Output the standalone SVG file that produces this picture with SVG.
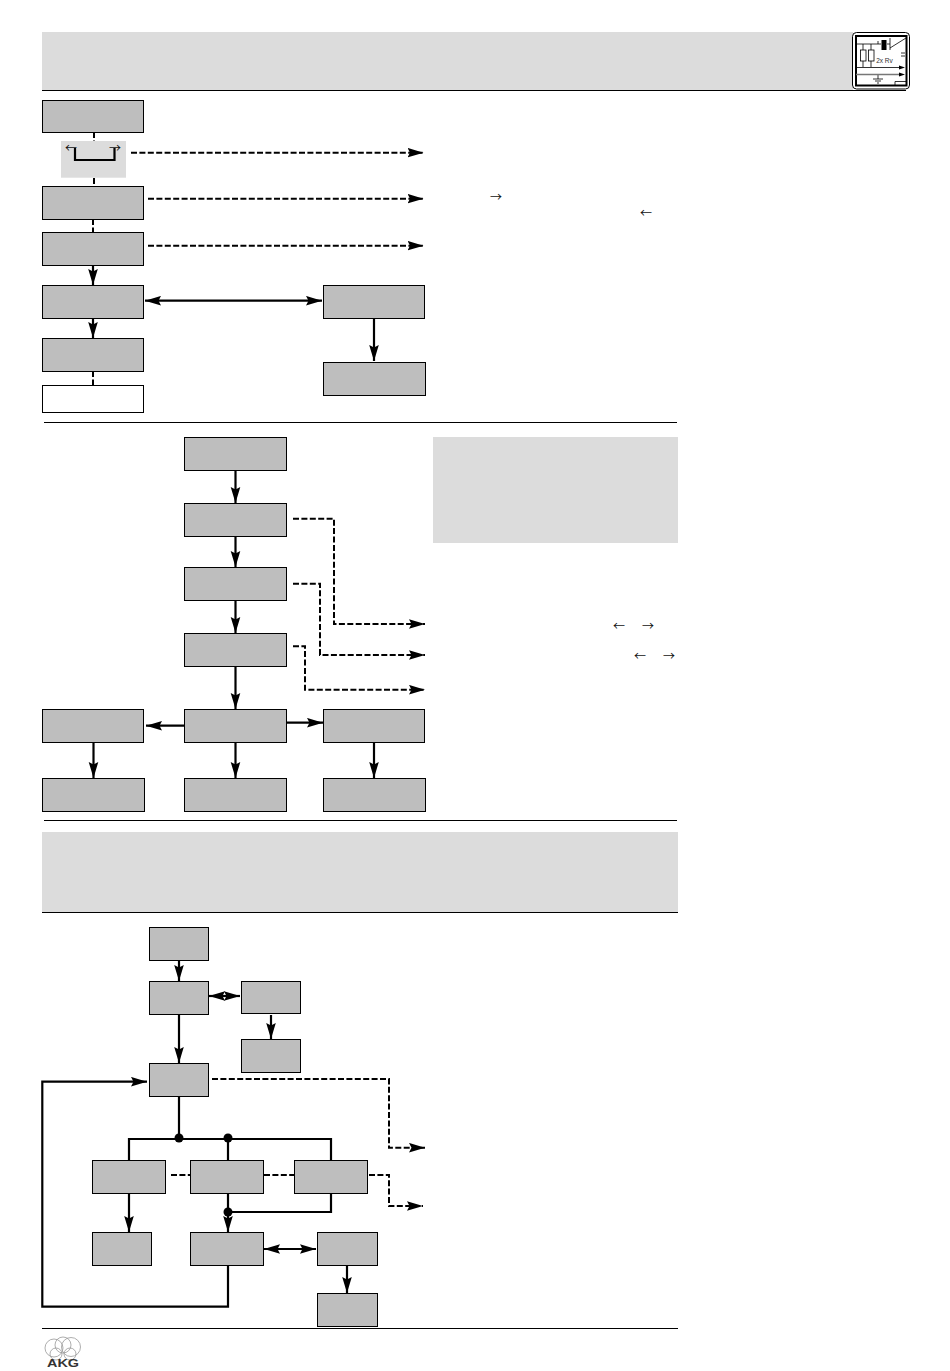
<svg xmlns="http://www.w3.org/2000/svg" width="950" height="1371" viewBox="0 0 950 1371">
<style>
.n{fill:#bebebe;stroke:#000;stroke-width:1}
.w{fill:#fff;stroke:#000;stroke-width:1}
.p{fill:#dcdcdc;stroke:none}
.r{stroke:#000;stroke-width:1;fill:none}
.s{fill:none;stroke:#000;stroke-width:2.200}
.d{fill:none;stroke:#000;stroke-width:2;stroke-dasharray:6 2.400}
.a{marker-end:url(#h)}
.b{marker-start:url(#hs);marker-end:url(#h)}
.g{font-family:"Noto Sans CJK JP","DejaVu Sans",sans-serif;font-size:12px;text-anchor:middle;fill:#111}
.i{fill:none;stroke:#000;stroke-width:.8}
.l{fill:none;stroke:#999;stroke-width:.8}
</style>
<defs>
<marker id="h" markerUnits="userSpaceOnUse" markerWidth="17" markerHeight="11" refX="16" refY="5" orient="auto"><path d="M0,.2 L16,5 L0,9.800 L2.500,5 z"/></marker>
<marker id="hs" markerUnits="userSpaceOnUse" markerWidth="17" markerHeight="11" refX="1" refY="5" orient="auto"><path d="M17,.2 L1,5 L17,9.800 L14.500,5 z"/></marker>
</defs>
<rect width="950" height="1371" fill="#fff"/>
<g id="header-top"><rect class="p" x="42" y="32" width="811" height="58"/><path class="r" d="M42,90.500H906"/></g>
<g id="icon">
<rect x="852.500" y="32.500" width="57" height="56.500" rx="4" fill="#fff" stroke="#000" stroke-width="1"/>
<rect x="856" y="36" width="50.500" height="49.500" fill="#fff" stroke="#000" stroke-width="2"/>
<path class="i" d="M856,44H881M863,44V50M863,61V67M871,44V50M871,61V67M887,44H890M878,41V44"/>
<rect class="i" x="860.500" y="50" width="5.500" height="11"/><rect class="i" x="868.500" y="50" width="5.500" height="11"/>
<rect x="881.500" y="40" width="5" height="10" fill="#000"/>
<path class="i" d="M890,38V50M890,48L906,38M901,53H905M901,56H905M856,67.500H901M895,85V81.500H906M878,75V79M873,79H883M875,81H881M877,83H879"/>
<path d="M856,74.500H901" stroke="#777" stroke-width="1.600" fill="none"/>
<path d="M899,65.500L905,67.500L899,69.500zM899,72.500L905,74.500L899,76.500z"/>
<text x="884.500" y="62.500" font-family="'Liberation Sans',sans-serif" font-size="6.500" text-anchor="middle" fill="#333">2x Rv</text>
</g>
<g id="connectors">
<path class="d" d="M94,132V141M94,178V186M93,219V232M93,371V385"/>
<path class="d a" d="M131,152.700H423.500"/>
<path class="d a" d="M148,198.700H423.500"/>
<path class="d a" d="M148,245.700H423.500"/>
<path class="s a" d="M93,265.500V285"/>
<path class="s a" d="M93,318.500V338"/>
<path class="s b" d="M145,300.700H322"/>
<path class="s a" d="M374,318.500V361"/>
<path class="s a" d="M235.500,471V503"/>
<path class="s a" d="M235.500,537V567"/>
<path class="s a" d="M235.500,601V633"/>
<path class="s a" d="M235.500,667V709"/>
<path class="s a" d="M184,725.700H146"/>
<path class="s a" d="M286.500,722.700H323"/>
<path class="s a" d="M93.500,743V778"/>
<path class="s a" d="M235.500,743V778"/>
<path class="s a" d="M374,743V778"/>
<path class="d a" d="M293,518.700H334V624H425"/>
<path class="d a" d="M293,583.700H320V655H425"/>
<path class="d a" d="M293,646.300H305V689.700H425"/>
<path class="s a" d="M179,960.500V981"/>
<path class="s a" d="M179,1014.500V1063"/>
<path class="s b" d="M209,996H240"/>
<path class="s a" d="M271,1015V1039"/>
<path class="d a" d="M212,1079H389V1147.700H425"/>
<path class="s a" d="M228,1265.500V1306.700H42.300V1081.700H147"/>
<path class="s" d="M179,1096.500V1139M129,1160V1139H331V1160M228,1139V1160M228,1212H331V1193.500"/>
<circle cx="179" cy="1138" r="4.500"/><circle cx="228" cy="1138" r="4.500"/><circle cx="228" cy="1212" r="4.500"/>
<path class="s a" d="M129,1193.500V1232"/>
<path class="s a" d="M228,1193.500V1232"/>
<path class="s b" d="M264,1249H316"/>
<path class="s a" d="M347,1265.500V1293"/>
<path class="d" d="M171,1175H190M264,1175H294"/>
<path class="d a" d="M369,1175H389V1206H423"/>
</g>
<g id="rule-1"><path class="r" d="M44,422.500H677"/></g>
<g id="rule-2"><path class="r" d="M44,820.500H677"/></g>
<g id="header-2"><rect class="p" x="42" y="832" width="636" height="80"/><path class="r" d="M42,912.500H678"/></g>
<g id="rule-3"><path class="r" d="M42,1328.500H678"/></g>
<g id="panel-bracket"><rect class="p" x="61" y="141" width="65" height="36.700"/><path class="s" d="M75,148V160H114.500V148"/><text class="g" x="71" y="152.500">←</text><text class="g" x="115" y="152.500">→</text></g>
<g id="a1"><rect class="n" x="42.500" y="100.500" width="101" height="32"/></g>
<g id="a2"><rect class="n" x="42.500" y="186.500" width="101" height="33"/></g>
<g id="a3"><rect class="n" x="42.500" y="232.500" width="101" height="33"/></g>
<g id="a4"><rect class="n" x="42.500" y="285.500" width="101" height="33"/></g>
<g id="a5"><rect class="n" x="42.500" y="338.500" width="101" height="33"/></g>
<g id="a6"><rect class="w" x="42.500" y="385.500" width="101" height="27"/></g>
<g id="b1"><rect class="n" x="323.500" y="285.500" width="101" height="33"/></g>
<g id="b2"><rect class="n" x="323.500" y="362.500" width="102" height="33"/></g>
<g id="panel-info"><rect class="p" x="433" y="437" width="245" height="106"/></g>
<g id="c1"><rect class="n" x="184.500" y="437.500" width="102" height="33"/></g>
<g id="c2"><rect class="n" x="184.500" y="503.500" width="102" height="33"/></g>
<g id="c3"><rect class="n" x="184.500" y="567.500" width="102" height="33"/></g>
<g id="c4"><rect class="n" x="184.500" y="633.500" width="102" height="33"/></g>
<g id="c5"><rect class="n" x="184.500" y="709.500" width="102" height="33"/></g>
<g id="c6"><rect class="n" x="184.500" y="778.500" width="102" height="33"/></g>
<g id="c7"><rect class="n" x="42.500" y="709.500" width="101" height="33"/></g>
<g id="c8"><rect class="n" x="42.500" y="778.500" width="102" height="33"/></g>
<g id="c9"><rect class="n" x="323.500" y="709.500" width="101" height="33"/></g>
<g id="c10"><rect class="n" x="323.500" y="778.500" width="102" height="33"/></g>
<g id="d1"><rect class="n" x="149.500" y="927.500" width="59" height="33"/></g>
<g id="d2"><rect class="n" x="149.500" y="981.500" width="59" height="33"/></g>
<g id="d3"><rect class="n" x="241.500" y="981.500" width="59" height="32"/></g>
<g id="d4"><rect class="n" x="241.500" y="1039.500" width="59" height="33"/></g>
<g id="d5"><rect class="n" x="149.500" y="1063.500" width="59" height="33"/></g>
<g id="d6"><rect class="n" x="92.500" y="1160.500" width="73" height="33"/></g>
<g id="d7"><rect class="n" x="190.500" y="1160.500" width="73" height="33"/></g>
<g id="d8"><rect class="n" x="294.500" y="1160.500" width="73" height="33"/></g>
<g id="d9"><rect class="n" x="92.500" y="1232.500" width="59" height="33"/></g>
<g id="d10"><rect class="n" x="190.500" y="1232.500" width="73" height="33"/></g>
<g id="d11"><rect class="n" x="317.500" y="1232.500" width="60" height="33"/></g>
<g id="d12"><rect class="n" x="317.500" y="1293.500" width="60" height="33"/></g>
<g id="glyphs">
<text class="g" x="496" y="201.500">→</text>
<text class="g" x="646" y="217.500">←</text>
<text class="g" x="619" y="630.500">←</text>
<text class="g" x="648" y="630.500">→</text>
<text class="g" x="640" y="660.500">←</text>
<text class="g" x="669" y="660.500">→</text>
</g>
<g id="logo">
<circle class="l" cx="54" cy="1348" r="9"/><circle class="l" cx="71" cy="1347" r="9.500"/><circle class="l" cx="63" cy="1345" r="8"/><circle class="l" cx="56" cy="1354" r="6"/><circle class="l" cx="70" cy="1354" r="6"/>
<text x="63" y="1367" font-family="'Liberation Sans',sans-serif" font-weight="700" font-size="10" text-anchor="middle" fill="#333" textLength="32" lengthAdjust="spacingAndGlyphs">AKG</text>
</g>
</svg>
